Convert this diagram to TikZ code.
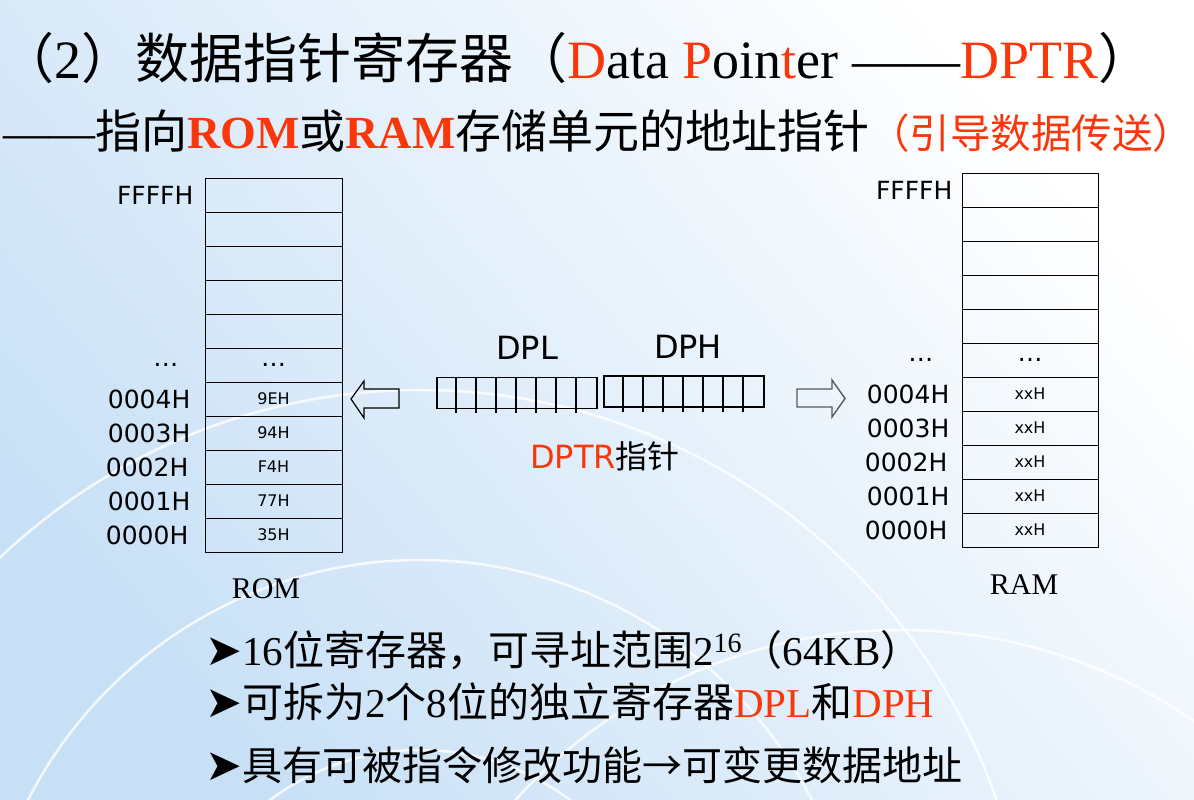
\documentclass[tikz,border=0pt]{standalone}
\usepackage{fontspec}
\setmainfont{Liberation Serif}
\newfontfamily\cjk{Noto Sans CJK SC}
\newfontfamily\dv{DejaVu Sans}
\usetikzlibrary{positioning}

\definecolor{ptrred}{RGB}{250,55,10}
\definecolor{bgblue}{RGB}{200,224,246}
\newcommand{\rd}[1]{\textcolor{ptrred}{#1}}
\newcommand{\zh}[1]{{\cjk #1}}
\newcommand{\bulletmark}{{\dv\fontsize{44}{44}\selectfont ➤}}
\newcommand{\bigdots}{{\fontsize{25}{25}\selectfont …}}

\tikzset{
  cell/.style={draw, line width=0.9pt, minimum width=137pt, minimum height=34pt, inner sep=0pt, font=\dv\fontsize{16}{16}\selectfont},
  addr/.style={font=\dv\fontsize{25}{25}\selectfont, inner sep=0pt},
  reg/.style={draw, line width=1.8pt, minimum width=160pt, minimum height=31pt, inner sep=0pt},
  regname/.style={font=\dv\fontsize{32}{32}\selectfont, inner sep=0pt},
  memname/.style={font=\fontsize{30}{30}\selectfont, inner sep=0pt},
  bullet/.style={anchor=west, inner sep=0pt, font=\fontsize{41}{48}\selectfont},
}

\begin{document}
\begin{tikzpicture}[x=1pt, y=-1pt]
    \useasboundingbox (0,0) rectangle (1194,800);

    % background
    \shade[shading=axis, top color=white, bottom color=bgblue, shading angle=-50] (0,0) rectangle (1194,800);
    \begin{scope}[white, line width=2.5pt, opacity=0.8]
        \draw (420,1000) circle (250);
        \draw (420,1000) circle (440);
        \draw (420,1000) circle (610);
        \draw (900,1150) circle (520);
    \end{scope}

    % title
    \node[anchor=west, inner sep=0pt, font=\fontsize{54}{60}\selectfont] (title) at (0,58)
        {\zh{（}2\zh{）数据指针寄存器（}\rd{D}ata \rd{P}oin\rd{t}er ——\rd{DPTR}\zh{）}};
    \node[anchor=west, inner sep=0pt, font=\fontsize{46}{50}\selectfont] (subtitle) at (3,131)
        {——\zh{指向}\textbf{\rd{ROM}}\zh{或}\textbf{\rd{RAM}}\zh{存储单元的地址指针}{\fontsize{40.5}{45}\selectfont\rd{\zh{（引导数据传送）}}}};

    % ROM table
    \foreach \i/\txt in {1/,2/,3/,4/,5/,6/\bigdots,7/9EH,8/94H,9/F4H,10/77H,11/35H}
        \node[cell] (rom\i) at (273.5,{161+34*\i}) {\txt};
    \draw[line width=1.6pt] (rom3.south west) -- (rom3.south east);
    \draw[line width=1.6pt] (rom7.south west) -- (rom7.south east);
    \node[addr, left=11pt of rom1] {FFFFH};
    \node[addr, left=26pt of rom6] {…};
    \node[addr, left=14pt of rom7] {0004H};
    \node[addr, left=14pt of rom8] {0003H};
    \node[addr, left=16pt of rom9] {0002H};
    \node[addr, left=14pt of rom10] {0001H};
    \node[addr, left=16pt of rom11] {0000H};
    \node[memname] (romname) at (266,589) {ROM};

    % RAM table
    \foreach \i/\txt in {1/,2/,3/,4/,5/,6/\bigdots,7/xxH,8/xxH,9/xxH,10/xxH,11/xxH}
        \node[cell, minimum width=136pt] (ram\i) at (1030,{156+34*\i}) {\txt};
    \draw[line width=1.6pt] (ram3.south west) -- (ram3.south east);
    \draw[line width=1.6pt] (ram7.south west) -- (ram7.south east);
    \node[addr, left=9pt of ram1] {FFFFH};
    \node[addr, left=28pt of ram6] {…};
    \node[addr, left=12pt of ram7] {0004H};
    \node[addr, left=12pt of ram8] {0003H};
    \node[addr, left=14pt of ram9] {0002H};
    \node[addr, left=12pt of ram10] {0001H};
    \node[addr, left=14pt of ram11] {0000H};
    \node[memname] (ramname) at (1024,585) {RAM};

    % DPTR = DPL + DPH
    \node[reg] (dpl) at (517,393) {};
    \node[reg] (dph) at (684,391.5) {};
    \foreach \k in {1,...,7} {
        \draw[line width=1.8pt] ([xshift=\k*20pt]dpl.north west) -- ([xshift=\k*20pt,yshift=-4pt]dpl.south west);
        \draw[line width=1.8pt] ([xshift=\k*20pt]dph.north west) -- ([xshift=\k*20pt,yshift=-4pt]dph.south west);
    }
    \node[regname] (dplname) at (527,348) {DPL};
    \node[regname] (dphname) at (688,347) {DPH};
    \node[regname] (dptrname) at (605,456) {\rd{DPTR}\zh{指针}};

    % hollow arrows
    \draw[line width=1.2pt] (351,399) -- (364,381) -- (364,389) -- (399,389) -- (399,408) -- (364,408) -- (364,418) -- cycle;
    \draw[line width=1.4pt, black!65] (845,398.5) -- (832,380) -- (832,389) -- (797,389) -- (797,407) -- (832,407) -- (832,417) -- cycle;

    % notes
    \node[bullet] (note1) at (205,650) {\bulletmark16\zh{位寄存器，可寻址范围}2{\fontsize{28}{28}\selectfont\raisebox{13pt}{16}}\zh{（}64KB\zh{）}};
    \node[bullet] (note2) at (205,702) {\bulletmark\zh{可拆为}2\zh{个}8\zh{位的独立寄存器}\rd{DPL}\zh{和}\rd{DPH}};
    \node[bullet, font=\fontsize{40}{48}\selectfont] (note3) at (205,765) {\bulletmark\zh{具有可被指令修改功能→可变更数据地址}};

\end{tikzpicture}
\end{document}
